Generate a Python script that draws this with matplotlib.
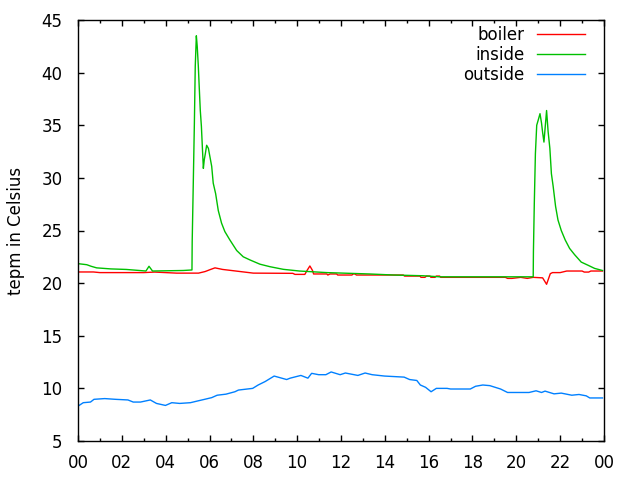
import matplotlib
matplotlib.use("Agg")
import matplotlib.pyplot as plt
from matplotlib.ticker import MultipleLocator, FuncFormatter

# hours of the day, values in Celsius
inside_h = [0, 0.4, 0.6, 0.85, 1.5, 2.2, 3.1, 3.24, 3.4, 4.8, 5.2, 5.21,
            5.26, 5.31, 5.35, 5.4, 5.44, 5.49, 5.53, 5.58, 5.63, 5.67, 5.72,
            5.76, 5.81, 5.87, 5.95, 6.02, 6.1, 6.17, 6.28, 6.4, 6.55, 6.7,
            6.93, 7.24, 7.54, 7.85, 8.3, 8.76, 9.37, 10.1, 11.35, 12.4, 13.3,
            14.4, 15.75, 16.5, 18.0, 19.5, 20.77, 20.78, 20.82, 20.87, 20.93,
            21.0, 21.08, 21.15, 21.2, 21.26, 21.32, 21.38, 21.45, 21.53, 21.6,
            21.68, 21.79, 21.9, 22.05, 22.23, 22.43, 22.66, 22.96, 23.27,
            23.57, 23.93]
inside_t = [21.85, 21.75, 21.6, 21.45, 21.35, 21.3, 21.15, 21.6, 21.15, 21.2,
            21.25, 23.9, 29.5, 35.2, 40.6, 43.5, 42.5, 40.6, 38.7, 36.4, 34.9,
            33.1, 30.9, 31.7, 32.3, 33.1, 32.8, 32.0, 31.1, 29.5, 28.5, 26.9,
            25.7, 24.9, 24.1, 23.1, 22.5, 22.2, 21.8, 21.56, 21.31, 21.15, 21.0,
            20.93, 20.87, 20.77, 20.7, 20.6, 20.6, 20.6, 20.6, 23.0, 27.6, 32.3,
            35.0, 35.5, 36.1, 35.2, 34.3, 33.4, 34.9, 36.4, 34.4, 32.8, 30.4,
            29.2, 27.3, 26.0, 25.0, 24.1, 23.3, 22.7, 22.0, 21.7, 21.4, 21.2]

boiler_h = [0, 0.7, 1.0, 2.0, 3.0, 3.5, 4.5, 5.5, 5.8, 6.05, 6.25, 6.6, 7.0,
            7.4, 8.0, 9.8, 9.9, 10.35, 10.45, 10.58, 10.7, 10.75, 11.35, 11.4,
            11.5, 11.8, 11.85, 12.5, 12.55, 12.64, 12.7, 14.84, 14.9, 15.6,
            15.65, 15.83, 15.9, 16.06, 16.1, 16.29, 16.35, 16.5, 16.55, 19.5,
            19.6, 19.8, 20.2, 20.5, 20.77, 21.2, 21.38, 21.55, 21.65, 22.0,
            22.3, 23.0, 23.1, 23.3, 23.4, 23.93]
boiler_t = [21.06, 21.06, 21.0, 21.0, 21.0, 21.05, 20.95, 20.95, 21.1, 21.3,
            21.45, 21.3, 21.2, 21.1, 20.95, 20.93, 20.83, 20.83, 21.2, 21.63,
            21.2, 20.87, 20.87, 20.77, 20.87, 20.87, 20.77, 20.77, 20.87, 20.87,
            20.77, 20.77, 20.67, 20.67, 20.55, 20.55, 20.67, 20.67, 20.55,
            20.55, 20.67, 20.67, 20.55, 20.55, 20.45, 20.45, 20.55, 20.45,
            20.55, 20.5, 19.89, 20.9, 21.0, 21.0, 21.15, 21.15, 21.05, 21.05,
            21.15, 21.15]

outside_h = [0, 0.24, 0.57, 0.73, 1.22, 1.71, 2.28, 2.52, 2.85, 3.3, 3.58,
             3.99, 4.28, 4.64, 5.13, 5.45, 5.78, 6.1, 6.35, 6.75, 7.16, 7.32,
             7.97, 8.22, 8.54, 8.95, 9.52, 9.68, 10.17, 10.49, 10.66, 10.98,
             11.31, 11.55, 11.96, 12.2, 12.77, 13.1, 13.42, 13.99, 14.88, 15.13,
             15.46, 15.62, 15.86, 16.11, 16.35, 16.84, 17.0, 17.9, 18.14, 18.47,
             18.79, 19.28, 19.6, 20.58, 20.9, 21.15, 21.31, 21.72, 22.05, 22.53,
             22.86, 23.19, 23.35, 23.93]
outside_t = [8.31, 8.64, 8.7, 8.96, 9.03, 8.96, 8.9, 8.7, 8.7, 8.9, 8.57, 8.38,
             8.64, 8.57, 8.64, 8.8, 8.96, 9.12, 9.35, 9.45, 9.68, 9.84, 10.0,
             10.32, 10.65, 11.17, 10.84, 10.97, 11.23, 10.97, 11.43, 11.3, 11.3,
             11.56, 11.3, 11.46, 11.23, 11.46, 11.3, 11.17, 11.07, 10.84, 10.75,
             10.32, 10.1, 9.68, 10.0, 10.0, 9.94, 9.94, 10.2, 10.32, 10.26, 9.94,
             9.61, 9.61, 9.77, 9.61, 9.74, 9.48, 9.55, 9.35, 9.42, 9.29, 9.09,
             9.09]

plt.rcParams['font.family'] = ['DejaVu Sans']

fig = plt.figure(figsize=(6.4, 4.8), dpi=100)
ax = fig.add_axes([78 / 640, 1 - 441 / 480, 526 / 640, 421 / 480])

ax.plot(boiler_h, boiler_t, color='#ff0000', lw=1, label='boiler')
ax.plot(inside_h, inside_t, color='#00c000', lw=1, label='inside')
ax.plot(outside_h, outside_t, color='#0080ff', lw=1, label='outside')

ax.set_xlim(0, 24)
ax.set_ylim(5, 45)
ax.xaxis.set_major_locator(MultipleLocator(2))
ax.xaxis.set_minor_locator(MultipleLocator(1))
ax.xaxis.set_major_formatter(FuncFormatter(lambda v, p: '%02d' % (int(round(v)) % 24)))
ax.yaxis.set_major_locator(MultipleLocator(5))

ax.tick_params(which='both', direction='in', top=True, right=True, width=1,
               labelsize=12, colors='black')
ax.tick_params(which='major', length=4.5)
ax.tick_params(which='minor', length=2.5)
ax.tick_params(axis='x', pad=9)
ax.tick_params(axis='y', pad=11)
for s in ax.spines.values():
    s.set_linewidth(1)

ax.set_ylabel('tepm in Celsius', fontsize=12)
ax.yaxis.set_label_coords(-0.1, 0.5)

ax.legend(loc='upper right', bbox_to_anchor=(1 - 19 / 526, 1 - 6 / 421),
          frameon=False, markerfirst=False, fontsize=12, handlelength=2.9,
          handletextpad=0.75, labelspacing=0.12, borderpad=0, borderaxespad=0)

fig.savefig('out.png', dpi=100)
